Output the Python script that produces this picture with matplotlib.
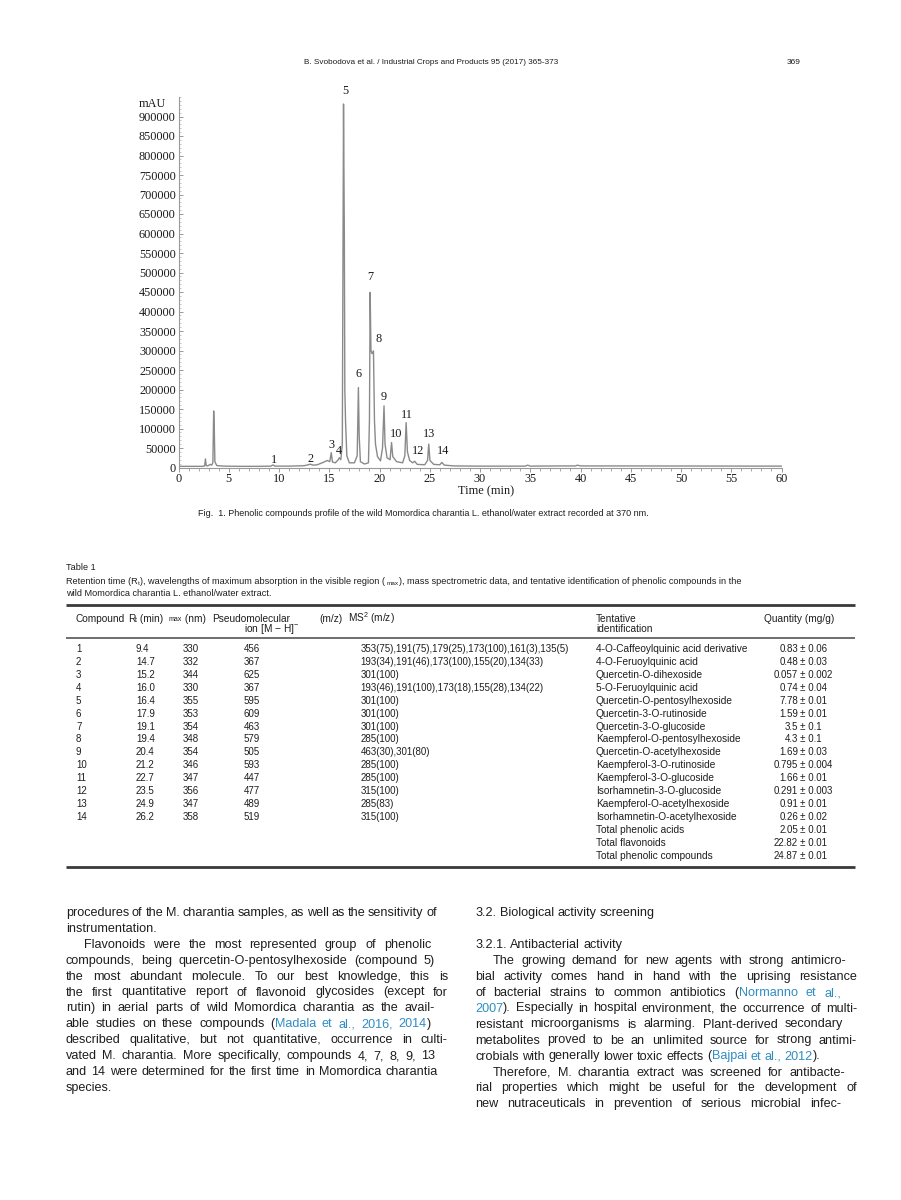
import matplotlib
matplotlib.use('Agg')
import matplotlib.pyplot as plt
from matplotlib.ticker import MultipleLocator, FixedLocator

plt.rcParams['font.family'] = ['Liberation Sans', 'DejaVu Sans']
plt.rcParams['mathtext.fontset'] = 'custom'
plt.rcParams['mathtext.rm'] = 'Liberation Sans'
plt.rcParams['mathtext.it'] = 'Liberation Sans:italic'

# ---------------- chromatogram data ----------------
trace_time = [0.0, 2.4, 2.6, 2.68, 2.76, 2.9, 3.15, 3.3, 3.42, 3.5, 3.56, 3.62, 3.8, 4.5, 6.0,
              8.0, 9.2, 9.4, 9.6, 11.0, 12.5, 12.9, 13.1, 13.4, 13.8, 14.3, 14.8, 15.05, 15.2,
              15.32, 15.6, 15.9, 16.0, 16.15, 16.3, 16.42, 16.5, 16.55, 16.62, 16.75, 17.0,
              17.5, 17.78, 17.9, 17.98, 18.1, 18.5, 18.9, 19.0, 19.07, 19.15, 19.25, 19.4,
              19.5, 19.6, 19.8, 20.1, 20.3, 20.45, 20.55, 20.75, 21.05, 21.2, 21.32, 21.7,
              22.3, 22.52, 22.65, 22.78, 23.0, 23.3, 23.5, 23.75, 24.5, 24.78, 24.9, 25.02,
              25.4, 26.0, 26.2, 26.45, 27.5, 30.0, 34.5, 34.75, 35.0, 38.0, 39.5, 39.7, 40.0,
              44.0, 60.0]
trace_signal = [3000, 3000, 4000, 22000, 5000, 4000, 8000, 6000, 12000, 145000, 100000, 15000,
                5000, 3500, 3000, 3000, 3500, 6500, 3500, 3500, 4500, 7000, 8500, 6000, 7000,
                12000, 18000, 15000, 38000, 14000, 12000, 20000, 25000, 20000, 60000, 932000,
                600000, 200000, 120000, 30000, 12000, 12000, 30000, 205000, 80000, 15000, 9000,
                12000, 120000, 449000, 300000, 292000, 299000, 120000, 60000, 28000, 17000,
                50000, 158000, 60000, 25000, 20000, 64000, 28000, 15000, 12000, 30000, 115000,
                40000, 18000, 12000, 16000, 8000, 7000, 18000, 60000, 18000, 8000, 7000, 13000,
                6000, 4000, 3500, 3500, 6000, 3500, 4000, 4000, 6000, 4000, 4000, 3500]
peak_ids = ['1', '2', '3', '4', '5', '6', '7', '8', '9', '10', '11', '12', '13', '14']
peak_label_time = [9.5, 13.1, 15.2, 16.0, 16.6, 17.9, 19.07, 19.86, 20.45, 21.65, 22.74,
                   23.83, 24.9, 26.3]
peak_label_signal = [20000, 22000, 58000, 43000, 966000, 240000, 489000, 330000, 181000,
                     86000, 135000, 43000, 86000, 43000]
y_tick_values = [0, 50000, 100000, 150000, 200000, 250000, 300000, 350000, 400000, 450000,
                 500000, 550000, 600000, 650000, 700000, 750000, 800000, 850000, 900000]
x_tick_values = [0, 5, 10, 15, 20, 25, 30, 35, 40, 45, 50, 55, 60]

# ---------------- table data ----------------
compounds = ['1', '2', '3', '4', '5', '6', '7', '8', '9', '10', '11', '12', '13', '14']
rt_min = ['9.4', '14.7', '15.2', '16.0', '16.4', '17.9', '19.1', '19.4', '20.4', '21.2',
          '22.7', '23.5', '24.9', '26.2']
lambda_max = ['330', '332', '344', '330', '355', '353', '354', '348', '354', '346', '347',
              '356', '347', '358']
pseudo_ion = ['456', '367', '625', '367', '595', '609', '463', '579', '505', '593', '447',
              '477', '489', '519']
ms2 = ['353(75),191(75),179(25),173(100),161(3),135(5)',
       '193(34),191(46),173(100),155(20),134(33)',
       '301(100)',
       '193(46),191(100),173(18),155(28),134(22)',
       '301(100)', '301(100)', '301(100)', '285(100)', '463(30),301(80)', '285(100)',
       '285(100)', '315(100)', '285(83)', '315(100)']
identification = ['4-O-Caffeoylquinic acid derivative', '4-O-Feruoylquinic acid',
                  'Quercetin-O-dihexoside', '5-O-Feruoylquinic acid',
                  'Quercetin-O-pentosylhexoside', 'Quercetin-3-O-rutinoside',
                  'Quercetin-3-O-glucoside', 'Kaempferol-O-pentosylhexoside',
                  'Quercetin-O-acetylhexoside', 'Kaempferol-3-O-rutinoside',
                  'Kaempferol-3-O-glucoside', 'Isorhamnetin-3-O-glucoside',
                  'Kaempferol-O-acetylhexoside', 'Isorhamnetin-O-acetylhexoside']
quantity_mean = ['0.83', '0.48', '0.057', '0.74', '7.78', '1.59', '3.5', '4.3', '1.69',
                 '0.795', '1.66', '0.291', '0.91', '0.26']
quantity_sd = ['0.06', '0.03', '0.002', '0.04', '0.01', '0.01', '0.1', '0.1', '0.03',
               '0.004', '0.01', '0.003', '0.01', '0.02']
total_names = ['Total phenolic acids', 'Total flavonoids', 'Total phenolic compounds']
total_mean = ['2.05', '22.82', '24.87']
total_sd = ['0.01', '0.01', '0.01']

# ---------------- body text ----------------
left_lines = [
    ("procedures of the M. charantia samples, as well as the sensitivity of", 66, 437),
    ("instrumentation.", 66, None),
    ("Flavonoids were the most represented group of phenolic", 84, 431),
    ("compounds, being quercetin-O-pentosylhexoside (compound 5)", 66, 435),
    ("the most abundant molecule. To our best knowledge, this is", 66, 448),
    ("the first quantitative report of flavonoid glycosides (except for", 66, 448),
    ("rutin) in aerial parts of wild Momordica charantia as the avail-", 66, 435),
    ("able studies on these compounds ({Madala et al., 2016, 2014})", 66, 431),
    ("described qualitative, but not quantitative, occurrence in culti-", 66, 448),
    ("vated M. charantia. More specifically, compounds 4, 7, 8, 9, 13", 66, 435),
    ("and 14 were determined for the first time in Momordica charantia", 66, 438),
    ("species.", 66, None),
]
right_lines = [
    ("3.2. Biological activity screening", 475, None, 913),
    ("3.2.1. Antibacterial activity", 475, None, 945),
    ("The growing demand for new agents with strong antimicro-", 493, 846, 961),
    ("bial activity comes hand in hand with the uprising resistance", 475, 857, 977),
    ("of bacterial strains to common antibiotics ({Normanno et al.,}", 475, 841, 993),
    ("{2007}). Especially in hospital environment, the occurrence of multi-", 475, 857, 1008.5),
    ("resistant microorganisms is alarming. Plant-derived secondary", 475, 843, 1024.5),
    ("metabolites proved to be an unlimited source for strong antimi-", 475, 857, 1040.5),
    ("crobials with generally lower toxic effects ({Bajpai et al., 2012}).", 475, None, 1056.5),
    ("Therefore, M. charantia extract was screened for antibacte-", 493, 845, 1072.5),
    ("rial properties which might be useful for the development of", 475, 857, 1088),
    ("new nutraceuticals in prevention of serious microbial infec-", 475, 841, 1104),
]

TXT = '#1e1e1e'
BLUE = '#2f8dc4'
BODY = 9.1
TAB = 7.3
NUM = 7.0
CAP = 6.6

fig = plt.figure(figsize=(9.01, 12), dpi=100)
bg = fig.add_axes([0, 0, 1, 1])
bg.set_xlim(0, 901)
bg.set_ylim(1200, 0)
bg.axis('off')
renderer = fig.canvas.get_renderer()


def tw(s, size):
    t = bg.text(0, 0, s, fontsize=size)
    w = t.get_window_extent(renderer).width
    t.remove()
    return w


def parse_tokens(line):
    tokens = []
    blue = False
    for word in line.split(' '):
        pieces, cur = [], ''
        for ch in word:
            if ch == '{':
                if cur:
                    pieces.append((cur, blue))
                cur, blue = '', True
            elif ch == '}':
                if cur:
                    pieces.append((cur, blue))
                cur, blue = '', False
            else:
                cur += ch
        if cur:
            pieces.append((cur, blue))
        tokens.append(pieces)
    return tokens


def draw_line(x0, y, line, x1=None, size=BODY):
    tokens = parse_tokens(line)
    widths = [[tw(p, size) for p, _ in tok] for tok in tokens]
    tokw = [sum(w) for w in widths]
    space = tw('x x', size) - tw('xx', size)
    if x1 is None or len(tokens) == 1:
        gap = space
    else:
        gap = (x1 - x0 - sum(tokw)) / (len(tokens) - 1)
    x = x0
    for tok, ws in zip(tokens, widths):
        for (p, b), w in zip(tok, ws):
            bg.text(x, y, p, color=BLUE if b else TXT, fontsize=size, va='center', ha='left')
            x += w
        x += gap


def seq(x, y, parts, size):
    # parts: (text, scale, dy)
    for s, sc, dy in parts:
        bg.text(x, y + dy, s, fontsize=size * sc, color=TXT, va='center', ha='left')
        x += tw(s, size * sc)


def fit(x, y, s, width, **kw):
    sz = 10 * width / tw(s, 10)
    bg.text(x, y, s, fontsize=sz, color=TXT, va='center', ha='left', **kw)

# ---------------- page header / caption ----------------
fit(304, 63, 'B. Svobodova et al. / Industrial Crops and Products 95 (2017) 365-373', 256)
bg.text(787, 63, '369', fontsize=6.0, color=TXT, va='center', ha='left')
fit(198, 513, 'Fig.  1. Phenolic compounds profile of the wild Momordica charantia L. '
    'ethanol/water extract recorded at 370 nm.', 450)

# ---------------- chromatogram ----------------
x0px, x1px = 178.5, 781.5
y0px, ytop = 467.5, 97.0
ax = fig.add_axes([x0px / 901, 1 - y0px / 1200, (x1px - x0px) / 901, (y0px - ytop) / 1200])
ax.plot(trace_time, trace_signal, color='#8a8a8a', lw=1.0)
ax.set_xlim(0, 60)
ax.set_ylim(0, 950000)
for sp in ['top', 'right']:
    ax.spines[sp].set_visible(False)
for sp in ['left', 'bottom']:
    ax.spines[sp].set_color('#9a9a9a')
    ax.spines[sp].set_linewidth(0.8)
ax.xaxis.set_major_locator(FixedLocator(x_tick_values))
ax.xaxis.set_minor_locator(MultipleLocator(1))
ax.yaxis.set_major_locator(FixedLocator(y_tick_values))
ax.yaxis.set_minor_locator(MultipleLocator(10000))
ax.set_xticklabels([str(v) for v in x_tick_values])
ax.set_yticklabels([str(v) for v in y_tick_values])
serif = ['Liberation Serif', 'DejaVu Serif']
CH = 8.8
ax.tick_params(axis='x', which='major', direction='out', length=3, width=0.7, color='#9a9a9a',
               pad=1.0, labelsize=CH, labelcolor='#1a1a1a')
ax.tick_params(axis='x', which='minor', direction='out', length=2, width=0.6, color='#9a9a9a')
ax.tick_params(axis='y', which='major', direction='in', length=3, width=0.7, color='#9a9a9a',
               pad=2, labelsize=CH, labelcolor='#1a1a1a')
ax.tick_params(axis='y', which='minor', direction='in', length=1.5, width=0.5, color='#b0b0b0')
for lab in ax.get_xticklabels() + ax.get_yticklabels():
    lab.set_family(serif)
for pid, pt, ps in zip(peak_ids, peak_label_time, peak_label_signal):
    ax.text(pt, ps, pid, ha='center', va='center', fontsize=CH, family=serif, color='#1a1a1a')
bg.text(152, 104, 'mAU', ha='center', va='center', fontsize=CH, family=serif, color='#1a1a1a')
bg.text(486, 491, 'Time (min)', ha='center', va='center', fontsize=CH, family=serif,
        color='#1a1a1a')

# ---------------- table ----------------
bg.text(66, 567, 'Table 1', fontsize=CAP, color=TXT, va='center', ha='left')
seq(66, 582, [('Retention time (R', 1, 0), ('t', 0.7, 1.5),
              ('), wavelengths of maximum absorption in the visible region ( ', 1, 0),
              ('max', 0.7, 1.5),
              ('), mass spectrometric data, and tentative identification of phenolic '
               'compounds in the', 1, 0)], CAP)
bg.text(66, 593.5, 'wild Momordica charantia L. ethanol/water extract.', fontsize=CAP,
        color=TXT, va='center', ha='left')
bg.plot([66, 855], [605, 605], color='#3a3a3a', lw=2.0, solid_capstyle='butt')
bg.plot([66, 855], [637.5, 637.5], color='#555555', lw=1.2, solid_capstyle='butt')
bg.plot([66, 855], [866.5, 866.5], color='#3a3a3a', lw=2.0, solid_capstyle='butt')

hy, hy2 = 618.5, 629.5
bg.text(75, hy, 'Compound', fontsize=TAB, color=TXT, va='center')
seq(128, hy, [('R', 1, 0), ('t', 0.7, 1.5), (' (min)', 1, 0)], TAB)
seq(169, hy, [('max', 0.7, 1.0), (' (nm)', 1, 0)], TAB)
bg.text(212, hy, 'Pseudomolecular', fontsize=TAB, color=TXT, va='center')
bg.text(244, hy2, r'ion [M$\,-\,$H]$^{-}$', fontsize=TAB, color=TXT, va='center')
bg.text(343, hy, '(m/z)', fontsize=TAB, color=TXT, va='center', ha='right')
bg.text(348, hy - 0.5, r'MS$^{2}$ (m/z)', fontsize=TAB, color=TXT, va='center')
bg.text(596, hy, 'Tentative', fontsize=TAB, color=TXT, va='center')
bg.text(596, hy2, 'identification', fontsize=TAB, color=TXT, va='center')
bg.text(764, hy, 'Quantity (mg/g)', fontsize=TAB, color=TXT, va='center')

row0, dr = 649.0, 12.92
for i in range(len(compounds)):
    y = row0 + i * dr
    bg.text(76, y, compounds[i], fontsize=NUM, color=TXT, va='center')
    bg.text(136, y, rt_min[i], fontsize=NUM, color=TXT, va='center')
    bg.text(183, y, lambda_max[i], fontsize=NUM, color=TXT, va='center')
    bg.text(244, y, pseudo_ion[i], fontsize=NUM, color=TXT, va='center')
    bg.text(360.5, y, ms2[i], fontsize=NUM, color=TXT, va='center')
    bg.text(596, y, identification[i], fontsize=TAB, color=TXT, va='center')
    bg.text(798, y, quantity_mean[i], fontsize=NUM, color=TXT, va='center', ha='right')
    bg.text(800.5, y, '\u00b1 ' + quantity_sd[i], fontsize=NUM, color=TXT, va='center')
for j in range(len(total_names)):
    y = row0 + (len(compounds) + j) * dr
    bg.text(596, y, total_names[j], fontsize=TAB, color=TXT, va='center')
    bg.text(798, y, total_mean[j], fontsize=NUM, color=TXT, va='center', ha='right')
    bg.text(800.5, y, '\u00b1 ' + total_sd[j], fontsize=NUM, color=TXT, va='center')

# ---------------- body text ----------------
ly0, ldy = 913.0, 15.9
for k, (s, xs, xe) in enumerate(left_lines):
    draw_line(xs, ly0 + k * ldy, s, xe)
for s, xs, xe, y in right_lines:
    draw_line(xs, y, s, xe)

fig.savefig('out.png', dpi=100)
